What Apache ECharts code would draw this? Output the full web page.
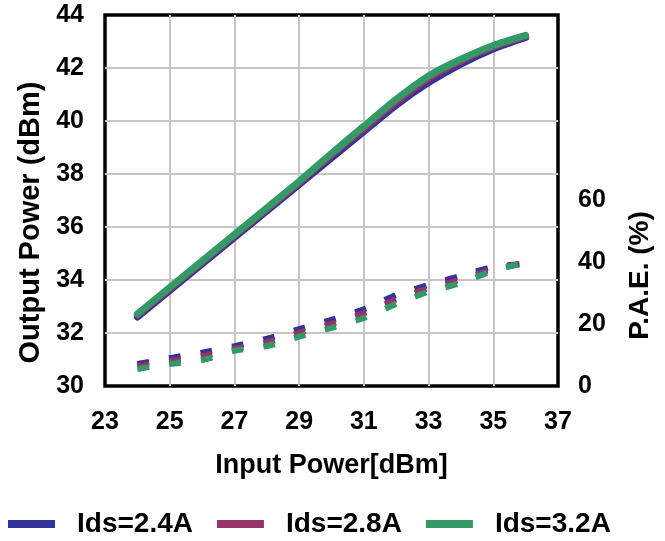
<!DOCTYPE html>
<html>
<head>
<meta charset="utf-8">
<script src="https://cdn.jsdelivr.net/npm/echarts@6/dist/echarts.min.js"></script>
<style>
  html, body { margin: 0; padding: 0; background: #fff; }
  #chart { width: 665px; height: 541px; }
</style>
</head>
<body>
<div id="chart"></div>
<script>
// ---- data ----
const inputPower = [24, 25, 26, 27, 28, 29, 30, 31, 32, 33, 34, 35, 36];

const seriesNames = ['Ids=2.4A', 'Ids=2.8A', 'Ids=3.2A'];

// Output power (dBm), left axis
const pout24 = [32.60, 33.60, 34.60, 35.60, 36.60, 37.60, 38.60, 39.60, 40.60, 41.45, 42.15, 42.72, 43.15];
const pout28 = [32.68, 33.68, 34.68, 35.68, 36.68, 37.68, 38.72, 39.72, 40.72, 41.60, 42.27, 42.80, 43.20];
const pout32 = [32.72, 33.72, 34.72, 35.72, 36.72, 37.72, 38.78, 39.80, 40.82, 41.70, 42.33, 42.85, 43.23];

// P.A.E. (%), right axis
const pae24 = [7.1, 9.0, 10.8, 12.9, 15.3, 18.4, 21.4, 24.8, 29.4, 32.7, 35.6, 38.5, 39.5];
const pae28 = [6.3, 8.0, 9.6, 12.1, 14.0, 17.2, 20.1, 23.5, 28.0, 31.6, 34.4, 37.9, 39.7];
const pae32 = [5.5, 7.1, 8.4, 11.4, 12.9, 16.0, 18.8, 22.0, 26.5, 30.5, 33.3, 37.3, 39.9];

const xTicks = { min: 23, max: 37, step: 2 };
const yLeftTicks = { min: 30, max: 44, step: 2 };
const yRightTicks = { min: 0, max: 120, step: 20, lastLabel: 60 };

const colors = ['#333399', '#993366', '#339966'];

// ---- chart ----
const FONT = "'Liberation Sans', Arial, sans-serif";
const pair = (ys) => inputPower.map((x, i) => [x, ys[i]]);

const solidStyle = (c) => ({ color: c, width: 7, cap: 'round', join: 'round' });
const dashStyle = (c) => ({ color: c, width: 6, type: [12, 20], cap: 'butt' });

const poutSets = [pout24, pout28, pout32];
const paeSets = [pae24, pae28, pae32];

const series = [];
poutSets.forEach((ys, i) => {
  series.push({
    name: seriesNames[i], type: 'line', yAxisIndex: 0,
    data: pair(ys), showSymbol: false, symbol: 'none', smooth: 0.25,
    color: colors[i], lineStyle: solidStyle(colors[i]), z: 3 + i
  });
});
paeSets.forEach((ys, i) => {
  series.push({
    name: seriesNames[i], type: 'line', yAxisIndex: 1,
    data: pair(ys), showSymbol: false, symbol: 'none', smooth: 0.25,
    color: colors[i], lineStyle: dashStyle(colors[i]), z: 3 + i
  });
});

const labelStyle = { fontSize: 25, fontWeight: 'bold', color: '#000', fontFamily: FONT };
const nameStyle = { fontSize: 28, fontWeight: 'bold', color: '#000', fontFamily: FONT };

const chart = echarts.init(document.getElementById('chart'), null, { renderer: 'canvas' });
chart.setOption({
  animation: false,
  backgroundColor: '#fff',
  textStyle: { fontFamily: FONT },
  grid: {
    left: 105, right: 107, top: 15, bottom: 155,
    show: true, borderColor: '#000', borderWidth: 3.5, backgroundColor: 'transparent'
  },
  xAxis: {
    type: 'value', min: xTicks.min, max: xTicks.max, interval: xTicks.step,
    name: 'Input Power[dBm]', nameLocation: 'middle', nameGap: 66,
    nameTextStyle: Object.assign({}, nameStyle, { fontSize: 27 }),
    axisLine: { show: false }, axisTick: { show: false },
    axisLabel: Object.assign({ margin: 24 }, labelStyle),
    splitLine: { show: true, showMinLine: false, showMaxLine: false, lineStyle: { color: '#c6c6c6', width: 2 } }
  },
  yAxis: [
    {
      type: 'value', position: 'left', min: yLeftTicks.min, max: yLeftTicks.max, interval: yLeftTicks.step,
      name: 'Output Power (dBm)', nameLocation: 'middle', nameGap: 59, nameRotate: 90,
      nameTextStyle: Object.assign({ padding: [0, 44, 0, 0] }, nameStyle, { fontSize: 29 }),
      axisLine: { show: false }, axisTick: { show: false },
      axisLabel: Object.assign({ margin: 21 }, labelStyle),
      splitLine: { show: true, showMinLine: false, showMaxLine: false, lineStyle: { color: '#c6c6c6', width: 2 } }
    },
    {
      type: 'value', position: 'right', min: yRightTicks.min, max: yRightTicks.max, interval: yRightTicks.step,
      name: 'P.A.E. (%)', nameLocation: 'middle', nameGap: 68, nameRotate: 90,
      nameTextStyle: Object.assign({ padding: [0, 150, 0, 0] }, nameStyle),
      axisLine: { show: false }, axisTick: { show: false },
      axisLabel: Object.assign({
        margin: 20,
        formatter: (v) => (v <= yRightTicks.lastLabel ? String(v) : '')
      }, labelStyle),
      splitLine: { show: false }
    }
  ],
  legend: {
    data: seriesNames,
    left: 3, top: 505,
    icon: 'rect', itemWidth: 47, itemHeight: 8, itemGap: 24,
    textStyle: { fontSize: 28, fontWeight: 'bold', color: '#000', fontFamily: FONT, padding: [0, 0, 14, 17] }
  },
  series: series
});
</script>
</body>
</html>
